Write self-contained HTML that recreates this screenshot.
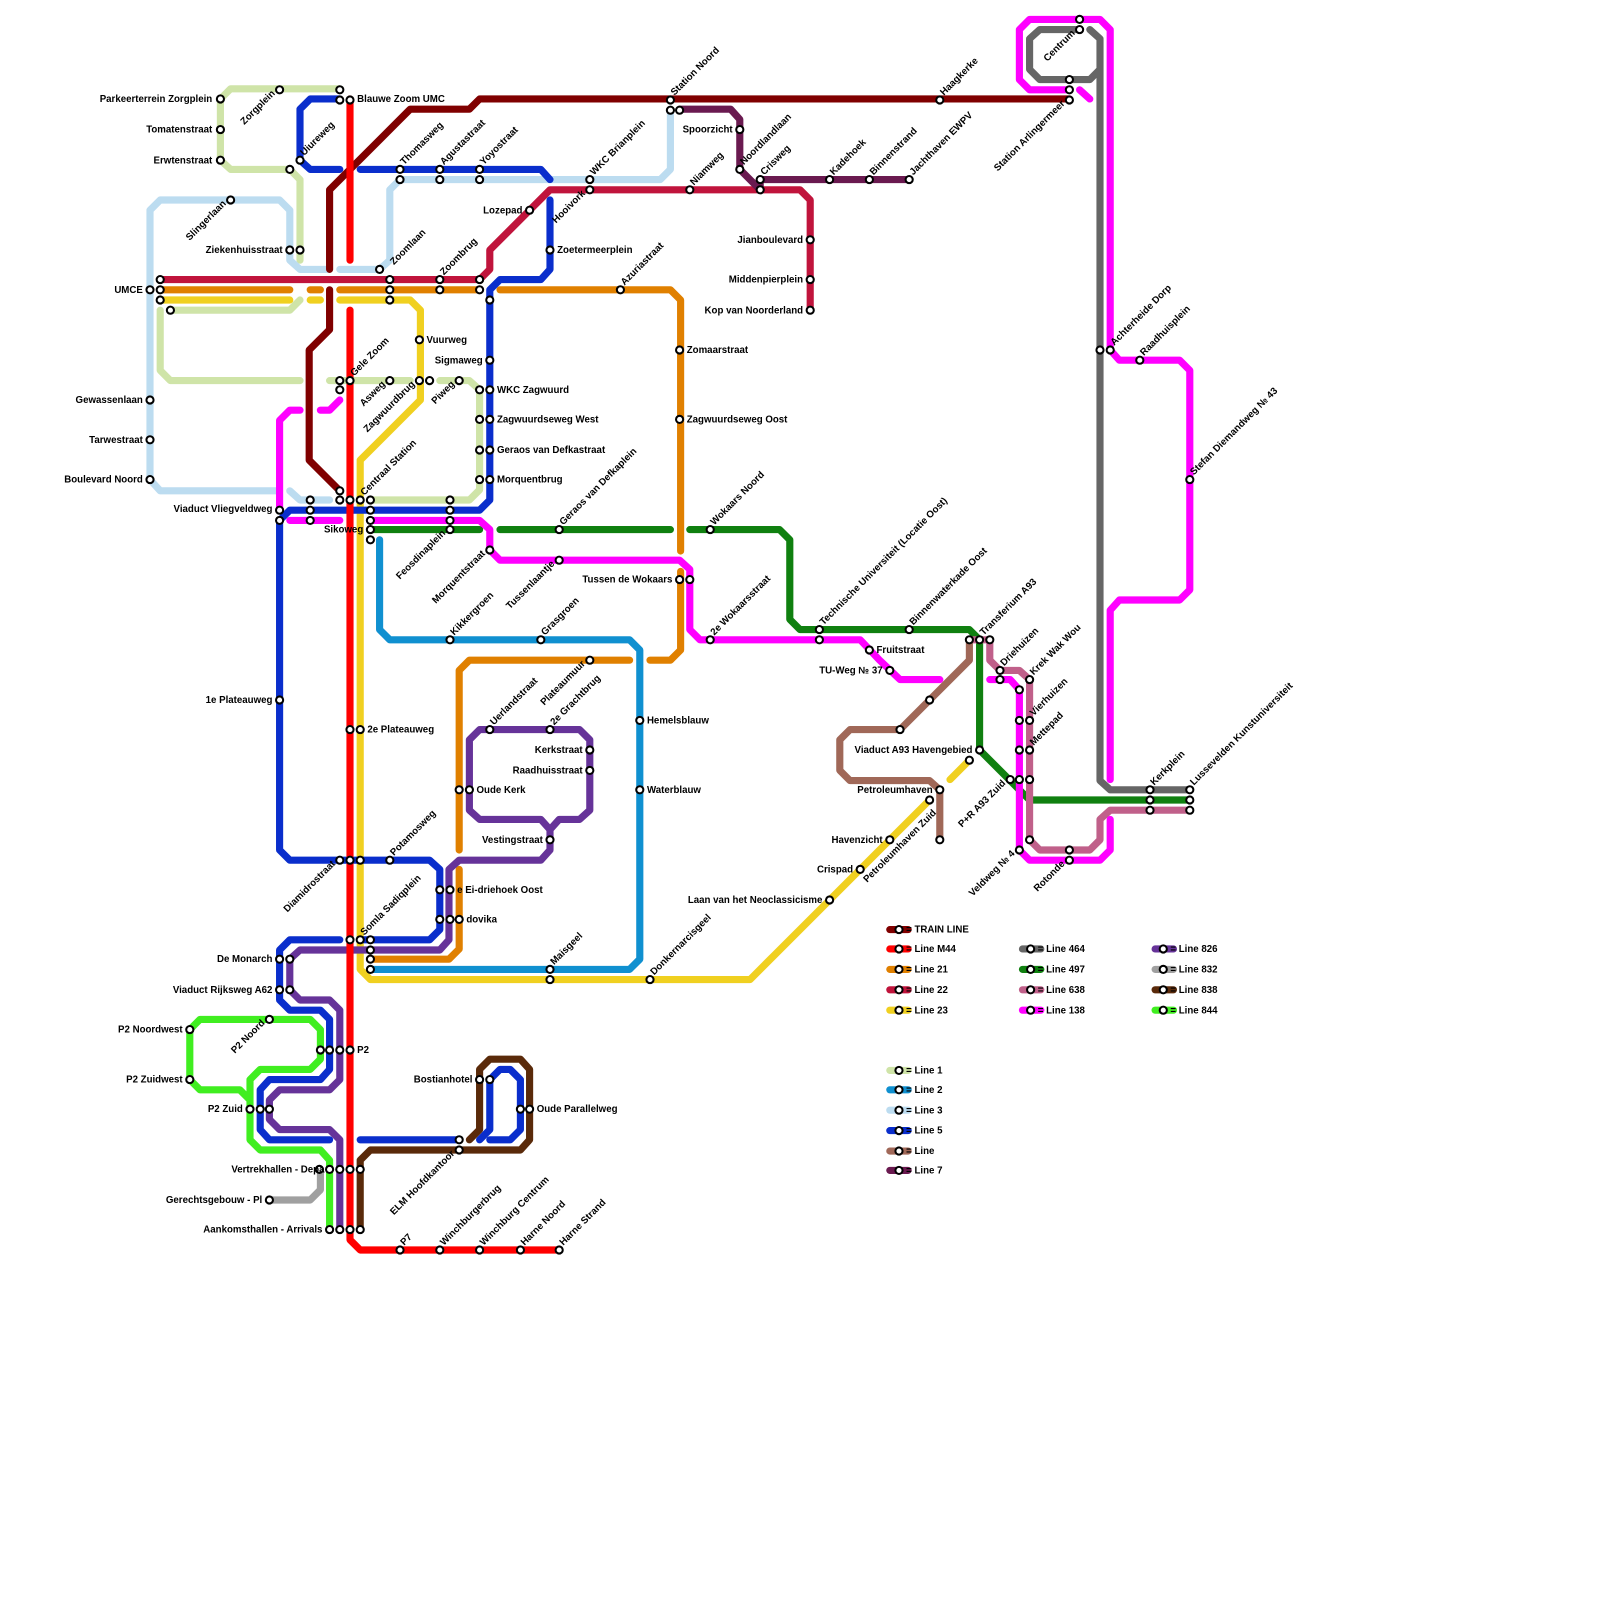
<!DOCTYPE html>
<html><head><meta charset="utf-8"><style>
html,body{margin:0;padding:0;background:#fff}
svg{display:block}
text{font-family:"Liberation Sans",sans-serif;font-size:9.5px;font-weight:bold;fill:#000}
.l{fill:none;stroke-width:7;stroke-linejoin:round;stroke-linecap:round}
.s{fill:#fff;stroke:#000;stroke-width:2}
.e{text-anchor:end}
</style></head><body>
<svg width="1600" height="1600" viewBox="0 0 1568 1568" xmlns="http://www.w3.org/2000/svg">
<g class="l" stroke="#cfe4a8">
<path d="M216,97 L226,87 L333,87 M216,97 L216,157 L226,166 L284,166 L294,176 L294,255 M157,304 L157,363 L167,373 L294,373 M323,373 L402,373 M431,373 L460,373 L470,382 L470,480 L460,490 L363,490 M167,304 L284,304 L294,294"/>
</g>
<g class="l" stroke="#bcdcf0">
<path d="M147,284 L147,206 L157,196 L274,196 L284,206 L284,255 L294,264 L323,264 M333,264 L372,264 L382,255 L382,186 L392,176 L647,176 L657,166 L657,107 M147,284 L147,470 L157,481 L274,481 M284,481 L294,490 L323,490"/>
</g>
<g class="l" stroke="#1090d0"><path d="M372,529 L372,617 L382,627 L617,627 L627,637 L627,940 L617,950 L363,950"/></g>
<g class="l" stroke="#e08000"><path d="M157,284 L284,284 M304,284 L314,284 M333,284 L470,284 M490,284 L657,284 L667,294 L667,540 M667,560 L667,637 L657,647 L637,647 M617,647 L460,647 L450,657 L450,833 M450,852 L450,930 L440,940 L363,940"/></g>
<g class="l" stroke="#c0143c"><path d="M157,274 L470,274 L480,264 L480,245 L539,186 L784,186 L794,196 L794,304"/></g>
<g class="l" stroke="#f0d020"><path d="M157,294 L284,294 M304,294 L314,294 M333,294 L402,294 L412,304 L412,392 L353,451 L353,950 L363,960 L735,960 L911,784 M931,764 L950,745"/></g>
<g class="l" stroke="#108010"><path d="M363,519 L470,519 M490,519 L657,519 M676,519 L764,519 L774,529 L774,607 L784,617 L950,617 L960,627 L960,735 L1009,784 L1166,784"/></g>
<g class="l" stroke="#666"><path d="M1058,29 L1019,29 L1009,38 L1009,68 L1019,78 L1068,78 L1078,68 L1078,38 L1068,29 M1078,68 L1078,765 L1088,774 L1166,774"/></g>
<g class="l" stroke="#c0608a"><path d="M950,627 L970,627 L970,647 L980,657 L999,657 L1009,666 L1009,823 L1019,833 L1068,833 L1078,823 L1078,803 L1088,794 L1166,794"/></g>
<g class="l" stroke="#ff00ff"><path d="M274,500 L274,412 L284,402 L294,402 M314,402 L323,402 L333,392 M284,510 L333,510 M363,510 L470,510 L480,519 L480,539 L490,549 L666,549 L676,558 L676,617 L686,627 L843,627 L862,647 L882,666 L921,666 M970,666 L990,666 L999,676 L999,833 L1009,843 L1078,843 L1088,833 L1088,803 M1088,764 L1088,598 L1097,588 L1156,588 L1166,578 L1166,363 L1156,353 L1097,353 L1088,343 L1088,29 L1078,19 L1009,19 L999,29 L999,78 L1009,88 L1048,88 M1058,88 L1068,97"/></g>
<g class="l" stroke="#0a2ecc"><path d="M333,97 L304,97 L294,107 L294,157 L304,166 L333,166 M353,166 L530,166 L539,176 M539,196 L539,264 L530,274 L490,274 L480,284 L480,490 L470,500 L284,500 L274,510 L274,833 L284,843 L421,843 L431,852 L431,911 L421,921 L353,921 M333,921 L284,921 L274,931 L274,980 L284,990 L314,990 L323,999 L323,1048 L314,1058 L264,1058 L255,1068 L255,1107 L264,1117 L323,1117 M353,1117 L450,1117 M470,1117 L480,1107 L480,1058 L490,1048 L500,1048 L510,1058 L510,1107 L500,1117 L480,1117"/></g>
<g class="l" stroke="#663399"><path d="M539,813 L530,803 L470,803 L460,794 L460,725 L470,715 L568,715 L578,725 L578,794 L568,803 L548,803 L539,813 L539,833 L530,843 L450,843 L440,852 L440,921 L431,931 L294,931 L284,940 L284,970 L294,980 L323,980 L333,990 L333,1058 L323,1068 L274,1068 L264,1078 L264,1097 L274,1107 L323,1107 L333,1117 L333,1205"/></g>
<g class="l" stroke="#6a1a50"><path d="M666,107 L716,107 L725,117 L725,166 L745,186 L745,176 L891,176"/></g>
<g class="l" stroke="#a06858"><path d="M950,627 L950,647 L882,715 L833,715 L823,725 L823,755 L833,765 L911,765 L921,774 L921,823"/></g>
<g class="l" stroke="#a0a0a0"><path d="M264,1176 L304,1176 L314,1166 L314,1146"/></g>
<g class="l" stroke="#5a2a0a"><path d="M470,1107 L470,1048 L480,1038 L510,1038 L519,1048 L519,1117 L510,1127 L363,1127 L353,1137 L353,1205 M470,1107 L460,1117"/></g>
<g class="l" stroke="#40ee20"><path d="M186,1009 L196,999 L304,999 L314,1009 L314,1038 L304,1048 L255,1048 L245,1058 L245,1117 L255,1127 L314,1127 L323,1137 L323,1205 M186,1009 L186,1058 L196,1068 L235,1068 L245,1078"/></g>
<g class="l" stroke="#800000"><path d="M1048,97 L470,97 L460,107 L402,107 L323,186 L323,264 M323,284 L323,323 L303,343 L303,451 L333,481"/></g>
<g class="l" stroke="#ff0000"><path d="M343,97 L343,255 M343,304 L343,1215 L353,1225 L548,1225"/></g>

<g class="s">
<circle cx="216" cy="97" r="3.5"/><circle cx="216" cy="127" r="3.5"/><circle cx="216" cy="157" r="3.5"/><circle cx="274" cy="88" r="3.5"/><circle cx="333" cy="88" r="3.5"/><circle cx="333" cy="98" r="3.5"/><circle cx="343" cy="98" r="3.5"/>
<circle cx="294" cy="157" r="3.5"/><circle cx="284" cy="166" r="3.5"/><circle cx="226" cy="196" r="3.5"/><circle cx="284" cy="245" r="3.5"/><circle cx="294" cy="245" r="3.5"/>
<circle cx="157" cy="274" r="3.5"/><circle cx="157" cy="284" r="3.5"/><circle cx="147" cy="284" r="3.5"/><circle cx="157" cy="294" r="3.5"/><circle cx="167" cy="304" r="3.5"/>
<circle cx="147" cy="392" r="3.5"/><circle cx="147" cy="431" r="3.5"/><circle cx="147" cy="470" r="3.5"/>
<circle cx="392" cy="166" r="3.5"/><circle cx="392" cy="176" r="3.5"/><circle cx="431" cy="166" r="3.5"/><circle cx="431" cy="176" r="3.5"/><circle cx="470" cy="166" r="3.5"/><circle cx="470" cy="176" r="3.5"/>
<circle cx="372" cy="264" r="3.5"/><circle cx="382" cy="274" r="3.5"/><circle cx="382" cy="284" r="3.5"/><circle cx="382" cy="294" r="3.5"/><circle cx="431" cy="274" r="3.5"/><circle cx="431" cy="284" r="3.5"/><circle cx="470" cy="274" r="3.5"/><circle cx="470" cy="284" r="3.5"/><circle cx="480" cy="294" r="3.5"/>
<circle cx="411" cy="333" r="3.5"/><circle cx="333" cy="373" r="3.5"/><circle cx="343" cy="373" r="3.5"/><circle cx="333" cy="382" r="3.5"/><circle cx="382" cy="373" r="3.5"/><circle cx="411" cy="373" r="3.5"/><circle cx="421" cy="373" r="3.5"/><circle cx="450" cy="373" r="3.5"/>
<circle cx="480" cy="353" r="3.5"/><circle cx="470" cy="382" r="3.5"/><circle cx="480" cy="382" r="3.5"/><circle cx="470" cy="411" r="3.5"/><circle cx="480" cy="411" r="3.5"/><circle cx="470" cy="441" r="3.5"/><circle cx="480" cy="441" r="3.5"/><circle cx="470" cy="470" r="3.5"/><circle cx="480" cy="470" r="3.5"/>
<circle cx="519" cy="206" r="3.5"/><circle cx="539" cy="245" r="3.5"/><circle cx="578" cy="176" r="3.5"/><circle cx="578" cy="186" r="3.5"/><circle cx="657" cy="98" r="3.5"/><circle cx="657" cy="108" r="3.5"/><circle cx="666" cy="108" r="3.5"/><circle cx="676" cy="186" r="3.5"/><circle cx="725" cy="127" r="3.5"/><circle cx="725" cy="166" r="3.5"/><circle cx="745" cy="176" r="3.5"/><circle cx="745" cy="186" r="3.5"/><circle cx="813" cy="176" r="3.5"/><circle cx="852" cy="176" r="3.5"/><circle cx="891" cy="176" r="3.5"/><circle cx="921" cy="98" r="3.5"/>
<circle cx="794" cy="235" r="3.5"/><circle cx="794" cy="274" r="3.5"/><circle cx="794" cy="304" r="3.5"/><circle cx="608" cy="284" r="3.5"/><circle cx="666" cy="343" r="3.5"/><circle cx="666" cy="411" r="3.5"/>
<circle cx="1058" cy="19" r="3.5"/><circle cx="1058" cy="29" r="3.5"/><circle cx="1048" cy="78" r="3.5"/><circle cx="1048" cy="88" r="3.5"/><circle cx="1048" cy="98" r="3.5"/><circle cx="1078" cy="343" r="3.5"/><circle cx="1088" cy="343" r="3.5"/><circle cx="1117" cy="353" r="3.5"/><circle cx="1166" cy="470" r="3.5"/>
<circle cx="274" cy="500" r="3.5"/><circle cx="274" cy="510" r="3.5"/><circle cx="304" cy="490" r="3.5"/><circle cx="304" cy="500" r="3.5"/><circle cx="304" cy="510" r="3.5"/><circle cx="333" cy="481" r="3.5"/><circle cx="333" cy="490" r="3.5"/><circle cx="343" cy="490" r="3.5"/><circle cx="353" cy="490" r="3.5"/><circle cx="363" cy="490" r="3.5"/><circle cx="363" cy="500" r="3.5"/><circle cx="363" cy="510" r="3.5"/><circle cx="363" cy="519" r="3.5"/><circle cx="363" cy="529" r="3.5"/>
<circle cx="441" cy="490" r="3.5"/><circle cx="441" cy="500" r="3.5"/><circle cx="441" cy="510" r="3.5"/><circle cx="441" cy="519" r="3.5"/><circle cx="480" cy="539" r="3.5"/><circle cx="548" cy="519" r="3.5"/><circle cx="548" cy="549" r="3.5"/><circle cx="696" cy="519" r="3.5"/><circle cx="666" cy="568" r="3.5"/><circle cx="676" cy="568" r="3.5"/>
<circle cx="441" cy="627" r="3.5"/><circle cx="530" cy="627" r="3.5"/><circle cx="578" cy="647" r="3.5"/><circle cx="696" cy="627" r="3.5"/><circle cx="803" cy="617" r="3.5"/><circle cx="803" cy="627" r="3.5"/><circle cx="852" cy="637" r="3.5"/><circle cx="891" cy="617" r="3.5"/><circle cx="872" cy="657" r="3.5"/>
<circle cx="950" cy="627" r="3.5"/><circle cx="960" cy="627" r="3.5"/><circle cx="970" cy="627" r="3.5"/><circle cx="980" cy="657" r="3.5"/><circle cx="980" cy="666" r="3.5"/><circle cx="1009" cy="666" r="3.5"/><circle cx="999" cy="676" r="3.5"/><circle cx="911" cy="686" r="3.5"/><circle cx="882" cy="715" r="3.5"/>
<circle cx="999" cy="706" r="3.5"/><circle cx="1009" cy="706" r="3.5"/><circle cx="999" cy="735" r="3.5"/><circle cx="1009" cy="735" r="3.5"/><circle cx="960" cy="735" r="3.5"/><circle cx="990" cy="764" r="3.5"/><circle cx="999" cy="764" r="3.5"/><circle cx="1009" cy="764" r="3.5"/><circle cx="950" cy="745" r="3.5"/><circle cx="921" cy="774" r="3.5"/><circle cx="911" cy="784" r="3.5"/><circle cx="921" cy="823" r="3.5"/><circle cx="1009" cy="823" r="3.5"/><circle cx="999" cy="833" r="3.5"/><circle cx="1048" cy="833" r="3.5"/><circle cx="1048" cy="843" r="3.5"/>
<circle cx="1127" cy="774" r="3.5"/><circle cx="1127" cy="784" r="3.5"/><circle cx="1127" cy="794" r="3.5"/><circle cx="1166" cy="774" r="3.5"/><circle cx="1166" cy="784" r="3.5"/><circle cx="1166" cy="794" r="3.5"/>
<circle cx="872" cy="823" r="3.5"/><circle cx="843" cy="852" r="3.5"/><circle cx="813" cy="882" r="3.5"/>
<circle cx="274" cy="686" r="3.5"/><circle cx="343" cy="715" r="3.5"/><circle cx="353" cy="715" r="3.5"/><circle cx="480" cy="715" r="3.5"/><circle cx="539" cy="715" r="3.5"/><circle cx="578" cy="735" r="3.5"/><circle cx="578" cy="755" r="3.5"/><circle cx="450" cy="774" r="3.5"/><circle cx="460" cy="774" r="3.5"/><circle cx="539" cy="823" r="3.5"/><circle cx="627" cy="706" r="3.5"/><circle cx="627" cy="774" r="3.5"/>
<circle cx="333" cy="843" r="3.5"/><circle cx="343" cy="843" r="3.5"/><circle cx="353" cy="843" r="3.5"/><circle cx="382" cy="843" r="3.5"/><circle cx="431" cy="872" r="3.5"/><circle cx="441" cy="872" r="3.5"/><circle cx="431" cy="901" r="3.5"/><circle cx="441" cy="901" r="3.5"/><circle cx="450" cy="901" r="3.5"/>
<circle cx="343" cy="921" r="3.5"/><circle cx="353" cy="921" r="3.5"/><circle cx="363" cy="921" r="3.5"/><circle cx="363" cy="931" r="3.5"/><circle cx="363" cy="940" r="3.5"/><circle cx="363" cy="950" r="3.5"/><circle cx="539" cy="950" r="3.5"/><circle cx="539" cy="960" r="3.5"/><circle cx="637" cy="960" r="3.5"/>
<circle cx="274" cy="940" r="3.5"/><circle cx="284" cy="940" r="3.5"/><circle cx="274" cy="970" r="3.5"/><circle cx="284" cy="970" r="3.5"/><circle cx="186" cy="1009" r="3.5"/><circle cx="264" cy="999" r="3.5"/><circle cx="186" cy="1058" r="3.5"/><circle cx="314" cy="1029" r="3.5"/><circle cx="323" cy="1029" r="3.5"/><circle cx="333" cy="1029" r="3.5"/><circle cx="343" cy="1029" r="3.5"/><circle cx="245" cy="1087" r="3.5"/><circle cx="255" cy="1087" r="3.5"/><circle cx="264" cy="1087" r="3.5"/>
<circle cx="470" cy="1058" r="3.5"/><circle cx="480" cy="1058" r="3.5"/><circle cx="510" cy="1087" r="3.5"/><circle cx="519" cy="1087" r="3.5"/><circle cx="450" cy="1117" r="3.5"/><circle cx="450" cy="1127" r="3.5"/>
<circle cx="313" cy="1146" r="3.5"/><circle cx="323" cy="1146" r="3.5"/><circle cx="333" cy="1146" r="3.5"/><circle cx="343" cy="1146" r="3.5"/><circle cx="353" cy="1146" r="3.5"/><circle cx="264" cy="1176" r="3.5"/><circle cx="323" cy="1205" r="3.5"/><circle cx="333" cy="1205" r="3.5"/><circle cx="343" cy="1205" r="3.5"/><circle cx="353" cy="1205" r="3.5"/>
<circle cx="392" cy="1225" r="3.5"/><circle cx="431" cy="1225" r="3.5"/><circle cx="470" cy="1225" r="3.5"/><circle cx="510" cy="1225" r="3.5"/><circle cx="548" cy="1225" r="3.5"/>
</g>

<text x="208" y="100" class="e">Parkeerterrein Zorgplein</text>
<text x="208" y="130" class="e">Tomatenstraat</text>
<text x="208" y="160" class="e">Erwtenstraat</text>
<text x="277" y="248" class="e">Ziekenhuisstraat</text>
<text x="140" y="287" class="e">UMCE</text>
<text x="140" y="395" class="e">Gewassenlaan</text>
<text x="140" y="434" class="e">Tarwestraat</text>
<text x="140" y="473" class="e">Boulevard Noord</text>
<text x="267" y="502" class="e">Viaduct Vliegveldweg</text>
<text x="356" y="522" class="e">Sikoweg</text>
<text x="267" y="689" class="e">1e Plateauweg</text>
<text x="267" y="943" class="e">De Monarch</text>
<text x="267" y="973" class="e">Viaduct Rijksweg A62</text>
<text x="179" y="1012" class="e">P2 Noordwest</text>
<text x="179" y="1061" class="e">P2 Zuidwest</text>
<text x="238" y="1090" class="e">P2 Zuid</text>
<text x="318" y="1149" class="e">Vertrekhallen - Depa</text>
<text x="257" y="1179" class="e">Gerechtsgebouw - Pl</text>
<text x="316" y="1208" class="e">Aankomsthallen - Arrivals</text>
<text x="473" y="356" class="e">Sigmaweg</text>
<text x="512" y="209" class="e">Lozepad</text>
<text x="718" y="130" class="e">Spoorzicht</text>
<text x="787" y="238" class="e">Jianboulevard</text>
<text x="787" y="277" class="e">Middenpierplein</text>
<text x="787" y="307" class="e">Kop van Noorderland</text>
<text x="659" y="571" class="e">Tussen de Wokaars</text>
<text x="463" y="1061" class="e">Bostianhotel</text>
<text x="571" y="738" class="e">Kerkstraat</text>
<text x="571" y="758" class="e">Raadhuisstraat</text>
<text x="532" y="826" class="e">Vestingstraat</text>
<text x="865" y="826" class="e">Havenzicht</text>
<text x="836" y="855" class="e">Crispad</text>
<text x="806" y="885" class="e">Laan van het Neoclassicisme</text>
<text x="953" y="738" class="e">Viaduct A93 Havengebied</text>
<text x="914" y="777" class="e">Petroleumhaven</text>
<text x="865" y="660" class="e">TU-Weg № 37</text>
<text x="350" y="100">Blauwe Zoom UMC</text>
<text x="418" y="336">Vuurweg</text>
<text x="487" y="385">WKC Zagwuurd</text>
<text x="487" y="414">Zagwuurdseweg West</text>
<text x="487" y="444">Geraos van Defkastraat</text>
<text x="487" y="473">Morquentbrug</text>
<text x="546" y="248">Zoetermeerplein</text>
<text x="673" y="346">Zomaarstraat</text>
<text x="673" y="414">Zagwuurdseweg Oost</text>
<text x="360" y="718">2e Plateauweg</text>
<text x="467" y="777">Oude Kerk</text>
<text x="448" y="875">e Ei-driehoek Oost</text>
<text x="457" y="904">dovika</text>
<text x="350" y="1032">P2</text>
<text x="526" y="1090">Oude Parallelweg</text>
<text x="634" y="709">Hemelsblauw</text>
<text x="634" y="777">Waterblauw</text>
<text x="859" y="640">Fruitstraat</text>

<g>
<text transform="translate(298,153) rotate(-45)">Uiureweg</text>
<text transform="translate(396,162) rotate(-45)">Thomasweg</text>
<text transform="translate(435,162) rotate(-45)">Agustastraat</text>
<text transform="translate(474,162) rotate(-45)">Yoyostraat</text>
<text transform="translate(661,94) rotate(-45)">Station Noord</text>
<text transform="translate(582,172) rotate(-45)">WKC Brianplein</text>
<text transform="translate(680,182) rotate(-45)">Niamweg</text>
<text transform="translate(729,162) rotate(-45)">Noordlandlaan</text>
<text transform="translate(749,172) rotate(-45)">Crisweg</text>
<text transform="translate(817,172) rotate(-45)">Kadehoek</text>
<text transform="translate(856,172) rotate(-45)">Binnenstrand</text>
<text transform="translate(895,172) rotate(-45)">Jachthaven EWPV</text>
<text transform="translate(925,94) rotate(-45)">Haagkerke</text>
<text transform="translate(386,260) rotate(-45)">Zoomlaan</text>
<text transform="translate(435,270) rotate(-45)">Zoombrug</text>
<text transform="translate(612,280) rotate(-45)">Azuriastraat</text>
<text transform="translate(347,369) rotate(-45)">Gele Zoom</text>
<text transform="translate(357,486) rotate(-45)">Centraal Station</text>
<text transform="translate(552,515) rotate(-45)">Geraos van Defkaplein</text>
<text transform="translate(700,515) rotate(-45)">Wokaars Noord</text>
<text transform="translate(807,613) rotate(-45)">Technische Universiteit (Locatie Oost)</text>
<text transform="translate(895,613) rotate(-45)">Binnenwaterkade Oost</text>
<text transform="translate(964,623) rotate(-45)">Transferium A93</text>
<text transform="translate(984,653) rotate(-45)">Driehuizen</text>
<text transform="translate(1013,662) rotate(-45)">Krek Wak Wou</text>
<text transform="translate(1013,702) rotate(-45)">Vierhuizen</text>
<text transform="translate(1013,731) rotate(-45)">Mettepad</text>
<text transform="translate(534,623) rotate(-45)">Grasgroen</text>
<text transform="translate(445,623) rotate(-45)">Kikkergroen</text>
<text transform="translate(700,623) rotate(-45)">2e Wokaarsstraat</text>
<text transform="translate(543,711) rotate(-45)">2e Grachtbrug</text>
<text transform="translate(484,711) rotate(-45)">Uerlandstraat</text>
<text transform="translate(386,839) rotate(-45)">Potamosweg</text>
<text transform="translate(357,917) rotate(-45)">Somla Sadiqplein</text>
<text transform="translate(543,946) rotate(-45)">Maisgeel</text>
<text transform="translate(641,956) rotate(-45)">Donkernarcisgeel</text>
<text transform="translate(396,1221) rotate(-45)">P7</text>
<text transform="translate(435,1221) rotate(-45)">Winchburgerbrug</text>
<text transform="translate(474,1221) rotate(-45)">Winchburg Centrum</text>
<text transform="translate(514,1221) rotate(-45)">Harne Noord</text>
<text transform="translate(552,1221) rotate(-45)">Harne Strand</text>
<text transform="translate(1131,770) rotate(-45)">Kerkplein</text>
<text transform="translate(1170,770) rotate(-45)">Lussevelden Kunstuniversiteit</text>
<text transform="translate(1092,339) rotate(-45)">Achterheide Dorp</text>
<text transform="translate(1121,349) rotate(-45)">Raadhuisplein</text>
<text transform="translate(1170,466) rotate(-45)">Stefan Diemandweg № 43</text>
</g>
<g>
<text class="e" transform="translate(270,92) rotate(-45)">Zorgplein</text>
<text class="e" transform="translate(222,200) rotate(-45)">Slingerlaan</text>
<text class="e" transform="translate(260,1003) rotate(-45)">P2 Noord</text>
<text class="e" transform="translate(378,377) rotate(-45)">Asweg</text>
<text class="e" transform="translate(407,377) rotate(-45)">Zagwuurdbrug</text>
<text class="e" transform="translate(446,377) rotate(-45)">Piweg</text>
<text class="e" transform="translate(437,523) rotate(-45)">Feosdinaplein</text>
<text class="e" transform="translate(476,543) rotate(-45)">Morquentstraat</text>
<text class="e" transform="translate(544,553) rotate(-45)">Tussenlaantje</text>
<text class="e" transform="translate(574,651) rotate(-45)">Plateaumuur</text>
<text class="e" transform="translate(574,190) rotate(-45)">Hooivork</text>
<text class="e" transform="translate(329,847) rotate(-45)">Diamidrostraat</text>
<text class="e" transform="translate(446,1131) rotate(-45)">ELM Hoofdkantoor</text>
<text class="e" transform="translate(1054,33) rotate(-45)">Centrum</text>
<text class="e" transform="translate(1044,102) rotate(-45)">Station Arlingermeer</text>
<text class="e" transform="translate(986,768) rotate(-45)">P+R A93 Zuid</text>
<text class="e" transform="translate(995,837) rotate(-45)">Veldweg № 4</text>
<text class="e" transform="translate(1044,847) rotate(-45)">Rotonde</text>
<text class="e" transform="translate(918,797) rotate(-45)">Petroleumhaven Zuid</text>
</g>

<g stroke-width="7" stroke-linecap="round">
<line x1="872" y1="911" x2="890" y2="911" stroke="#800000"/>
<line x1="872" y1="930" x2="890" y2="930" stroke="#ff0000"/>
<line x1="872" y1="950" x2="890" y2="950" stroke="#e08000"/>
<line x1="872" y1="970" x2="890" y2="970" stroke="#c0143c"/>
<line x1="872" y1="990" x2="890" y2="990" stroke="#f0d020"/>
<line x1="1002" y1="930" x2="1020" y2="930" stroke="#666"/>
<line x1="1002" y1="950" x2="1020" y2="950" stroke="#108010"/>
<line x1="1002" y1="970" x2="1020" y2="970" stroke="#c0608a"/>
<line x1="1002" y1="990" x2="1020" y2="990" stroke="#ff00ff"/>
<line x1="1132" y1="930" x2="1150" y2="930" stroke="#663399"/>
<line x1="1132" y1="950" x2="1150" y2="950" stroke="#a0a0a0"/>
<line x1="1132" y1="970" x2="1150" y2="970" stroke="#5a2a0a"/>
<line x1="1132" y1="990" x2="1150" y2="990" stroke="#40ee20"/>
<line x1="872" y1="1049" x2="890" y2="1049" stroke="#cfe4a8"/>
<line x1="872" y1="1068" x2="890" y2="1068" stroke="#1090d0"/>
<line x1="872" y1="1088" x2="890" y2="1088" stroke="#bcdcf0"/>
<line x1="872" y1="1108" x2="890" y2="1108" stroke="#0a2ecc"/>
<line x1="872" y1="1128" x2="890" y2="1128" stroke="#a06858"/>
<line x1="872" y1="1147" x2="890" y2="1147" stroke="#6a1a50"/>
</g>
<g class="s">
<circle cx="881" cy="911" r="3.5"/><circle cx="881" cy="930" r="3.5"/><circle cx="881" cy="950" r="3.5"/><circle cx="881" cy="970" r="3.5"/><circle cx="881" cy="990" r="3.5"/>
<circle cx="1010" cy="930" r="3.5"/><circle cx="1010" cy="950" r="3.5"/><circle cx="1010" cy="970" r="3.5"/><circle cx="1010" cy="990" r="3.5"/>
<circle cx="1140" cy="930" r="3.5"/><circle cx="1140" cy="950" r="3.5"/><circle cx="1140" cy="970" r="3.5"/><circle cx="1140" cy="990" r="3.5"/>
<circle cx="881" cy="1049" r="3.5"/><circle cx="881" cy="1068" r="3.5"/><circle cx="881" cy="1088" r="3.5"/><circle cx="881" cy="1108" r="3.5"/><circle cx="881" cy="1128" r="3.5"/><circle cx="881" cy="1147" r="3.5"/>
</g>
<g>
<text x="888" y="914">= TRAIN LINE</text><text x="888" y="933">= Line M44</text><text x="888" y="953">= Line 21</text><text x="888" y="973">= Line 22</text><text x="888" y="993">= Line 23</text>
<text x="1017" y="933">= Line 464</text><text x="1017" y="953">= Line 497</text><text x="1017" y="973">= Line 638</text><text x="1017" y="993">= Line 138</text>
<text x="1147" y="933">= Line 826</text><text x="1147" y="953">= Line 832</text><text x="1147" y="973">= Line 838</text><text x="1147" y="993">= Line 844</text>
<text x="888" y="1052">= Line 1</text><text x="888" y="1071">= Line 2</text><text x="888" y="1091">= Line 3</text><text x="888" y="1111">= Line 5</text><text x="888" y="1131">= Line</text><text x="888" y="1150">= Line 7</text>
</g>
</svg>
</body></html>
